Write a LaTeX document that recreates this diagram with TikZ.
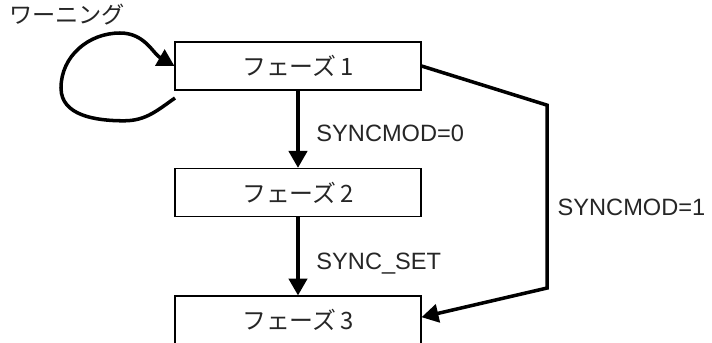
\documentclass[tikz,border=0pt]{standalone}
\usepackage{fontspec}
\setmainfont{Liberation Sans}
\newfontfamily\jpfont{Noto Sans CJK JP}
\usetikzlibrary{arrows.meta, positioning}

\begin{document}
\begin{tikzpicture}[
        >={Triangle[length=12pt, width=13pt]},
        phase/.style ={draw, line width=0.8pt, minimum width=6.15cm,
                minimum height=1.2cm, inner sep=2pt,
                font=\jpfont\fontsize{17}{20}\selectfont, text=black!85},
        flow/.style  ={->, line width=2.5pt, line join=miter},
        lbl/.style   ={font=\fontsize{16.8}{20}\selectfont, text=black!85}
    ]
    \useasboundingbox (0,0) rectangle (17.8,-8.575);

    %% ---- phases, stacked -------------------------------------------------
    \node[phase] (phase1) at (7.45,-1.65) {フェーズ\,1};
    \node[phase] (phase2) at (7.45,-4.81) {フェーズ\,2};
    \node[phase] (phase3) at (7.45,-8.0)  {フェーズ\,3};

    %% ---- main flow ---------------------------------------------------------
    \draw[flow] (phase1) -- node[lbl, right=0.3cm, pos=0.55] {SYNCMOD=0} (phase2);
    \draw[flow] (phase2) -- node[lbl, right=0.3cm, pos=0.6] {SYNC\_SET} (phase3);

    %% ---- bypass on the right -----------------------------------------------
    \coordinate (k1) at (13.68,-2.63);
    \coordinate (k2) at (13.68,-7.2);
    \draw[flow] (phase1.east) -- (k1)
        -- node[lbl, right=0.1cm, pos=0.56] {SYNCMOD=1} (k2)
        -- ([yshift=0.07cm]phase3.east);

    %% ---- warning loop --------------------------------------------------------
    \coordinate (lp) at (4.375,-2.45);
    \draw[flow] (lp) to[out=215, in=0] (3.1,-3.02)
        to[out=180, in=270] (1.525,-2.2)
        to[out=90, in=180] (3.0,-0.825)
        to[out=0, in=150] (phase1.west);
    \node[font=\jpfont\fontsize{16.5}{20}\selectfont, text=black!85] (warn)
        at (1.675,-0.375) {ワーニング};

\end{tikzpicture}
\end{document}
